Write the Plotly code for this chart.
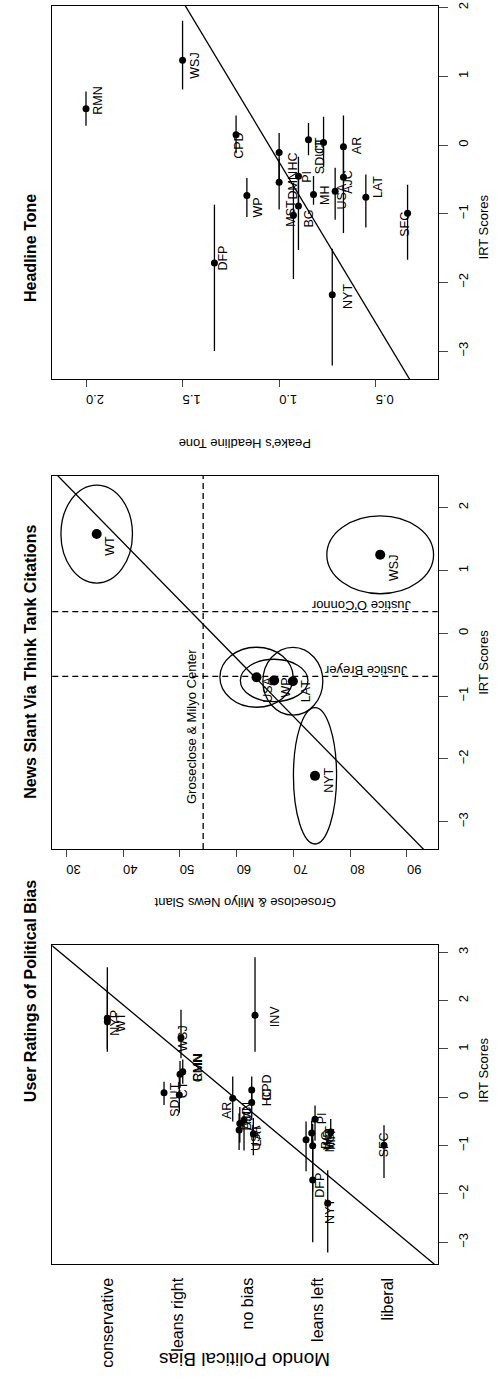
import numpy as np
import plotly.graph_objects as go

FONT = "Liberation Sans, Arial, Helvetica, sans-serif"
W, H = 498, 1386

# ---------------- Panel 1 : Headline Tone ----------------
p1_names = ["RMN", "WSJ", "CPD", "WP", "DFP", "NYT", "SFC", "LAT", "AR", "AJC",
            "USA", "MH", "BG", "MST", "DMN", "HC", "PI", "SDUT", "CT"]
p1_tone = [2.0, 1.5, 1.223, 1.167, 1.335, 0.725, 0.335, 0.551, 0.667, 0.667,
           0.710, 0.822, 0.90, 0.926, 1.0, 1.0, 0.90, 0.848, 0.770]
p1_irt = [0.528, 1.235, 0.149, -0.737, -1.72, -2.18, -0.994, -0.76, -0.025, -0.471,
          -0.674, -0.72, -0.89, -1.023, -0.544, -0.108, -0.456, 0.077, 0.038]
p1_lo = [0.28, 0.81, -0.12, -1.05, -3.0, -3.21, -1.67, -1.2, -0.45, -1.28,
         -1.09, -0.87, -1.53, -1.95, -0.94, -0.5, -0.9, -0.15, -0.32]
p1_hi = [0.78, 1.81, 0.43, -0.48, -0.87, -1.51, -0.58, -0.43, 0.43, 0.0,
         -0.33, -0.45, -0.5, -0.55, -0.2, 0.175, -0.17, 0.32, 0.41]
p1_fit = (1.053, 0.2136)            # tone = a + b * IRT
p1_ticks = [2.0, 1.5, 1.0, 0.5]
p1_ticktext = ["2.0", "1.5", "1.0", "0.5"]

# ---------------- Panel 2 : News Slant Via Think Tank Citations ----------------
p2_names = ["WT", "WSJ", "NYT", "USA", "WP", "LAT"]
p2_slant = [35.35, 85.28, 73.8, 63.5, 66.6, 69.9]
p2_irt = [1.58, 1.25, -2.27, -0.70, -0.75, -0.764]
p2_slant_rad = [6.3, 9.4, 3.8, 6.45, 5.95, 5.28]
p2_irt_rad = [0.78, 0.62, 1.085, 0.478, 0.337, 0.54]
p2_fit = (55.66, -10.83)            # slant = a + b * IRT
gm_center = 54.1
justice_oconnor = 0.344
justice_breyer = -0.685
p2_ticks = [30, 40, 50, 60, 70, 80, 90]

# ---------------- Panel 3 : User Ratings of Political Bias ----------------
p3_names = ["NYP", "WT", "WSJ", "RMN", "CMN", "CT", "SDUT", "INV", "AR", "CPD", "HC",
            "DMN", "AJC", "USA", "LAT", "PI", "WP", "BG", "MST", "MH", "DFP", "NYT", "SFC"]
p3_bias = [5.0, 5.0, 3.949, 3.924, 3.963, 3.973, 4.191, 2.893, 3.211, 2.94, 2.94,
           3.11, 3.05, 3.12, 2.917, 2.037, 2.084, 2.165, 2.07, 1.813, 2.07, 1.856, 1.053]
p3_irt = [1.634, 1.564, 1.233, 0.53, 0.475, 0.047, 0.095, 1.70, -0.02, 0.15, -0.11,
          -0.544, -0.471, -0.674, -0.76, -0.455, -0.737, -0.88, -1.0, -0.72, -1.71, -2.19, -0.994]
p3_lo = [1.0, 0.94, 0.81, 0.28, 0.2, -0.32, -0.16, 0.94, -0.5, -0.12, -0.47,
         -0.94, -1.1, -1.09, -1.2, -0.9, -1.05, -1.53, -1.95, -0.87, -3.0, -3.21, -1.67]
p3_hi = [2.69, 2.29, 1.81, 0.78, 0.75, 0.41, 0.32, 2.9, 0.43, 0.43, 0.17,
         -0.2, -0.3, -0.33, -0.43, -0.17, -0.48, -0.5, -0.55, -0.45, -0.87, -1.51, -0.58]
p3_fit = (3.192, 0.8274)            # bias = a + b * IRT
p3_ticks = [5, 4, 3, 2, 1]
p3_ticktext = ["conservative", "leans right", "no bias", "leans left", "liberal"]

# ---------------- styling: label nudges (pixels: right, down) ----------------
p1_nudge = {"RMN": (12, -8), "WSJ": (13, 6), "CPD": (3, 11), "WP": (11, 12), "DFP": (9, -5),
            "NYT": (15, 2), "SFC": (-2, 11), "LAT": (12, -10), "AR": (13, -1), "AJC": (5, 4),
            "USA": (7, 5), "MH": (12, 1), "BG": (11, 12), "MST": (-2, -2), "DMN": (14, 3),
            "HC": (14, 9), "PI": (9, 0), "SDUT": (11, 17), "CT": (-3, 3)}
p2_nudge = {"WT": (13, 12), "WSJ": (14, 13), "NYT": (14, 5), "USA": (12, 13),
            "WP": (12, 7), "LAT": (13, 10)}
p3_nudge = {"NYP": (8, 4), "WT": (13, 0), "WSJ": (2, 1), "RMN": (15, -4), "CMN": (18, -6),
            "CT": (4, -5), "SDUT": (11, 7), "INV": (20, 1), "AR": (-5, 12), "CPD": (15, -2),
            "HC": (15, -5), "DMN": (7, -7), "AJC": (3, -2), "USA": (17, 8), "LAT": (4, 1),
            "PI": (7, -1), "WP": (16, 7), "BG": (20, 0), "MST": (17, -7), "MH": (0, 8),
            "DFP": (7, 5), "NYT": (2, 8), "SFC": (0, 0)}

# panel geometry (pixels)
XL, XR = 52.3, 437.7
panels = {
    1: dict(top=5.67, bot=379.3, xr=[2.1745, 0.179], yr=[-3.412, 2.029]),
    2: dict(top=475.67, bot=849.0, xr=[27.53, 95.41], yr=[-3.435, 2.51]),
    3: dict(top=945.0, bot=1264.3, xr=[5.785, 0.287], yr=[-3.455, 3.151]),
}

def px(x):
    return x / W

def py(y):
    return 1 - y / H

fig = go.Figure()
LW = 1.3

def add_points(k, xs, ys, lo, hi, size):
    ys = np.array(ys, float)
    fig.add_trace(go.Scatter(
        x=xs, y=ys, mode="markers", xaxis=f"x{k}", yaxis=f"y{k}",
        marker=dict(size=size, color="black", line=dict(width=0)),
        error_y=None if lo is None else dict(type="data", symmetric=False,
                                             array=np.array(hi) - ys,
                                             arrayminus=ys - np.array(lo),
                                             width=0, thickness=LW, color="black"),
        showlegend=False, hoverinfo="skip"))

def add_fit(k, fit):
    yr = panels[k]["yr"]
    irt = np.array([yr[0] - 1, yr[1] + 1])
    fig.add_trace(go.Scatter(x=fit[0] + fit[1] * irt, y=irt, mode="lines",
                             xaxis=f"x{k}", yaxis=f"y{k}",
                             line=dict(color="black", width=LW),
                             showlegend=False, hoverinfo="skip"))

def add_labels(k, names, xs, ys, nudge):
    for n, x, y in zip(names, xs, ys):
        dx, dy = nudge.get(n, (12, 0))
        fig.add_annotation(x=x, y=y, xref=f"x{k}", yref=f"y{k}", text=n,
                           textangle=-90, showarrow=False, xshift=dx, yshift=-dy,
                           xanchor="center", yanchor="middle",
                           font=dict(size=12.5, color="black", family=FONT))

# panel 1
add_fit(1, p1_fit)
add_points(1, p1_tone, p1_irt, p1_lo, p1_hi, 7)
add_labels(1, p1_names, p1_tone, p1_irt, p1_nudge)

# panel 2
add_fit(2, p2_fit)
for s, i, rs, ri in zip(p2_slant, p2_irt, p2_slant_rad, p2_irt_rad):
    fig.add_shape(type="circle", xref="x2", yref="y2", x0=s - rs, x1=s + rs,
                  y0=i - ri, y1=i + ri, line=dict(color="black", width=LW))
fig.add_shape(type="line", xref="x2", yref="y2 domain", x0=gm_center, x1=gm_center,
              y0=0, y1=1, line=dict(color="black", width=LW, dash="6px,4px"))
for j in (justice_oconnor, justice_breyer):
    fig.add_shape(type="line", xref="x2 domain", yref="y2", x0=0, x1=1, y0=j, y1=j,
                  line=dict(color="black", width=LW, dash="6px,4px"))
add_points(2, p2_slant, p2_irt, None, None, 10)
add_labels(2, p2_names, p2_slant, p2_irt, p2_nudge)
fig.add_annotation(x=gm_center, y=-1.49, xref="x2", yref="y2", xshift=-11,
                   text="Groseclose & Milyo Center", textangle=-90, showarrow=False,
                   font=dict(size=13, family=FONT, color="black"))
fig.add_annotation(x=82.0, y=justice_oconnor, xref="x2", yref="y2", yshift=6,
                   text="Justice O'Connor", textangle=180, showarrow=False,
                   font=dict(size=13, family=FONT, color="black"))
fig.add_annotation(x=82.8, y=justice_breyer, xref="x2", yref="y2", yshift=6,
                   text="Justice Breyer", textangle=180, showarrow=False,
                   font=dict(size=13, family=FONT, color="black"))

# panel 3
add_fit(3, p3_fit)
add_points(3, p3_bias, p3_irt, p3_lo, p3_hi, 7)
add_labels(3, p3_names, p3_bias, p3_irt, p3_nudge)

# axes
axis_common = dict(showline=True, linecolor="black", linewidth=LW, mirror=True,
                   showgrid=False, zeroline=False, automargin=False,
                   tickfont=dict(size=13, family=FONT, color="black"))
layout = dict(width=W, height=H, margin=dict(l=0, r=0, t=0, b=0, autoexpand=False),
              paper_bgcolor="white", plot_bgcolor="white",
              font=dict(family=FONT, color="black"), showlegend=False)

irt_ticks = {1: [-3, -2, -1, 0, 1, 2], 2: [-3, -2, -1, 0, 1, 2], 3: [-3, -2, -1, 0, 1, 2, 3]}
for k, p in panels.items():
    sfx = "" if k == 1 else str(k)
    ydom = [py(p["bot"]), py(p["top"])]
    xa = dict(axis_common, domain=[px(XL), px(XR)], range=p["xr"], anchor=f"y{k}")
    if k == 1:
        xa.update(tickvals=p1_ticks, ticktext=p1_ticktext, ticks="outside", ticklen=7,
                  tickwidth=LW, tickangle=180, ticklabelstandoff=5)
    elif k == 2:
        xa.update(tickvals=p2_ticks, ticks="outside", ticklen=7, tickwidth=LW,
                  tickangle=180, ticklabelstandoff=5)
    else:
        xa.update(tickvals=p3_ticks, ticktext=p3_ticktext, ticks="", tickangle=-90,
                  tickfont=dict(size=16, family=FONT, color="black"), ticklabelstandoff=6)
    ya = dict(axis_common, domain=ydom, range=p["yr"], anchor=f"x{k}", side="right",
              tickvals=irt_ticks[k], ticks="outside", ticklen=9, tickwidth=LW,
              tickangle=-90, ticklabelstandoff=5)
    layout["xaxis" + sfx] = xa
    layout["yaxis" + sfx] = ya

fig.update_layout(**layout)

# titles and axis titles
titles = {1: "Headline Tone", 2: "News Slant Via Think Tank Citations",
          3: "User Ratings of Political Bias"}
xtitles = {1: ("Peake's Headline Tone", 434, 13), 2: ("Groseclose & Milyo News Slant", 903, 13),
           3: ("Mondo Political Bias", 1372, 19)}
for k, p in panels.items():
    yc = (p["top"] + p["bot"]) / 2
    fig.add_annotation(x=px(20), y=py(yc), xref="paper", yref="paper", text=f"<b>{titles[k]}</b>",
                       textangle=-90, showarrow=False,
                       font=dict(size=16, family=FONT, color="black"))
    fig.add_annotation(x=px(493), y=py(yc), xref="paper", yref="paper", text="IRT Scores",
                       textangle=-90, showarrow=False,
                       font=dict(size=13, family=FONT, color="black"))
    t, yy, fs = xtitles[k]
    fig.add_annotation(x=px(245), y=py(yy), xref="paper", yref="paper", text=t,
                       textangle=180, showarrow=False,
                       font=dict(size=fs, family=FONT, color="black"))

fig.write_html("out.html", config={"displayModeBar": False},
               post_script="document.body.style.margin='0px';")
